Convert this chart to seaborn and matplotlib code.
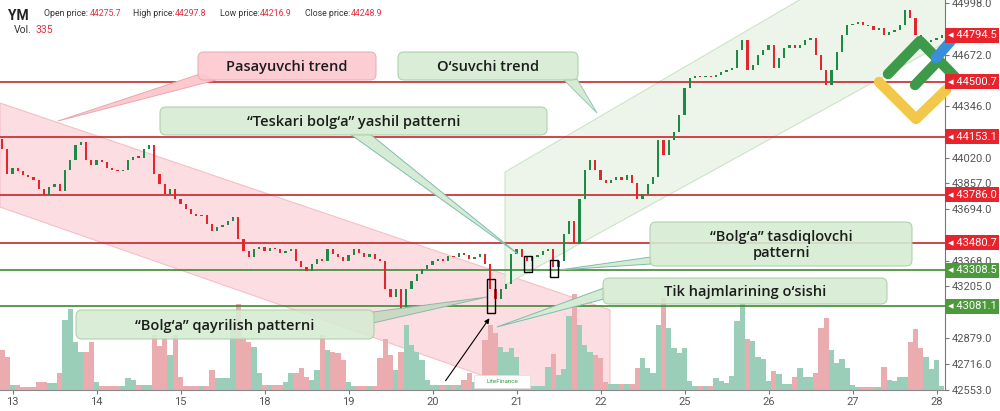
import numpy as np
import pandas as pd
import seaborn as sns
import matplotlib.pyplot as plt
from matplotlib.patches import FancyBboxPatch, Polygon, Rectangle
from matplotlib.transforms import blended_transform_factory

# hourly closes (open = previous close)
first_open = 44140
closes = [
    44072, 43914, 43958, 43933, 43908, 43895, 43882, 43819, 43781, 43832, 43851, 43807, 43945, 44008, 44103, 44122,
    44008, 43977, 44008, 43990, 43958, 43945, 43933, 43945, 44008, 44027, 44021, 44072, 44103, 43914, 43851, 43788,
    43819, 43756, 43725, 43693, 43662, 43649, 43655, 43598, 43554, 43579, 43592, 43617, 43643, 43504, 43428, 43390,
    43441, 43453, 43428, 43447, 43441, 43415, 43428, 43441, 43365, 43327, 43302, 43346, 43378, 43365, 43441, 43409,
    43390, 43365, 43403, 43441, 43415, 43390, 43409, 43378, 43365, 43188, 43138, 43188, 43062, 43188, 43239, 43283,
    43314, 43340, 43365, 43378, 43365, 43396, 43390, 43415, 43403, 43378, 43390, 43409, 43346, 43188, 43125, 43188,
    43220, 43409, 43441, 43390, 43365, 43390, 43403, 43428, 43441, 43327, 43365, 43535, 43617, 43472, 43756, 43945,
    44008, 43945, 43882, 43863, 43882, 43895, 43882, 43908, 43863, 43756, 43788, 43851, 43895, 44135, 44040, 44135,
    44185, 44292, 44463, 44526, 44539, 44532, 44539, 44532, 44545, 44564, 44576, 44589, 44703, 44766, 44576, 44608,
    44671, 44703, 44734, 44589, 44652, 44715, 44734, 44715, 44734, 44766, 44778, 44671, 44576, 44482, 44576, 44690,
    44797, 44860, 44867, 44879, 44860, 44854, 44829, 44841, 44797, 44816, 44829, 44860, 44955, 44904, 44797, 44734,
    44753, 44766, 44778, 44794.5,
]
volumes = [
    3200, 2640, 400, 400, 240, 240, 240, 640, 640, 560, 560, 1360, 5600, 6480, 3840, 3040,
    3040, 3840, 640, 320, 320, 320, 320, 320, 960, 800, 400, 400, 400, 4400, 3520, 4160,
    2800, 4400, 1040, 320, 320, 320, 320, 320, 1600, 960, 960, 960, 4800, 6880, 4240, 3840,
    3440, 1360, 400, 400, 400, 400, 640, 1360, 1360, 1760, 1040, 800, 1600, 4400, 3200, 3040,
    2960, 2400, 640, 320, 320, 320, 320, 320, 2560, 4080, 2800, 1600, 3040, 5200, 3600, 3040,
    2400, 800, 400, 400, 400, 400, 400, 400, 800, 1360, 640, 640, 4000, 5200, 4560, 3440,
    3040, 3360, 2640, 640, 320, 320, 320, 320, 1840, 2880, 1200, 1680, 5920, 7680, 5200, 3600,
    3040, 2800, 2560, 640, 480, 480, 480, 480, 480, 1760, 2560, 1760, 1360, 5200, 7360, 4960,
    3360, 2960, 3360, 720, 320, 320, 320, 320, 960, 720, 560, 1120, 5520, 6880, 4080, 3920,
    2640, 2480, 720, 1520, 1280, 480, 480, 1040, 1760, 1040, 1040, 1360, 4960, 5760, 3200, 2160,
    2480, 1760, 400, 240, 240, 240, 240, 240, 1840, 800, 720, 1040, 1040, 3840, 4880, 3360,
    2640, 1680, 2400, 335,
]
day_labels = ['13', '14', '15', '18', '19', '20', '21', '22', '25', '26', '27', '28']
day_start = [2, 18, 34, 50, 66, 82, 98, 114, 130, 146, 162, 178]
price_ticks = [44998.0, 44835.0, 44672.0, 44509.0, 44346.0, 44183.0, 44020.0, 43857.0,
               43694.0, 43531.0, 43368.0, 43205.0, 43042.0, 42879.0, 42716.0, 42553.0]
# tick labels hidden behind the price boxes on the right
hidden_ticks = [44835.0, 44509.0, 44183.0, 43531.0, 43042.0]
red_levels = [44500.7, 44153.1, 43786.0, 43480.7]
green_levels = [43308.5, 43081.1]
last_price = 44794.5
header = [('Open price:', '44275.7'), ('High price:', '44297.8'),
          ('Low price:', '44216.9'), ('Close price:', '44248.9')]

df = pd.DataFrame({'close': closes, 'volume': volumes})
df['i'] = np.arange(len(df))
df['open'] = df['close'].shift(1).fillna(first_open)
df['dir'] = np.where(df['close'] >= df['open'], 'up', 'down')

sns.set_theme(style='white')
plt.rcParams['font.family'] = ['Roboto', 'DejaVu Sans']

fig = plt.figure(figsize=(10, 4.11), dpi=100)
fig.patch.set_facecolor('white')
rect = [0, 1 - 390 / 411, 0.945, 390 / 411]

# overlay in pixel coords for annotations
ov = fig.add_axes([0, 0, 1, 1], zorder=10)
ov.set_xlim(0, 1000)
ov.set_ylim(411, 0)
ov.axis('off')
ov.patch.set_alpha(0)

axv = fig.add_axes(rect, zorder=0)
ax = fig.add_axes(rect, zorder=1)
ax.patch.set_visible(False)

# trend channels
axv.add_patch(Polygon([(0, 103), (610, 310), (610, 420), (0, 207)], closed=True,
                      transform=ov.transData, fc='#fcdde1', ec='#f4c0c7', lw=0.8, zorder=0))
axv.add_patch(Polygon([(505, 172), (950, -88), (950, 40), (505, 285)], closed=True,
                      transform=ov.transData, fc='#edf5eb', ec='#cde3c9', lw=0.8, zorder=0))

# volume
sns.barplot(data=df, x='i', y='volume', hue='dir', palette={'up': '#93d6ba', 'down': '#f6a1a7'},
            native_scale=True, width=1.0, dodge=False, errorbar=None, legend=False,
            linewidth=0, ax=axv, zorder=1)
axv.set_xlim(-0.4, 179.6)
axv.set_ylim(0, 31200)
axv.axis('off')

# candles
body = (df['close'] - df['open']).abs().clip(lower=8)
low = df[['open', 'close']].min(axis=1)
cols = df['dir'].map({'up': '#1d8a45', 'down': '#e3262d'})
ax.bar(df['i'], body, bottom=low, width=0.42, color=cols, linewidth=0, zorder=3)

for lv in red_levels:
    ax.axhline(lv, color='#c8262a', lw=1.2, zorder=2)
for lv in green_levels:
    ax.axhline(lv, color='#3f8a33', lw=1.2, zorder=2)

ax.set_xlim(-0.4, 179.6)
ax.set_ylim(42550, 45018)
ax.yaxis.tick_right()
ax.set_yticks(price_ticks)
ax.set_yticklabels(['' if t in hidden_ticks else f'{t:.1f}' for t in price_ticks])
ax.set_xticks(day_start)
ax.set_xticklabels(day_labels)
ax.tick_params(axis='y', length=3, width=0.8, color='#777', labelsize=8, labelcolor='#555', pad=2)
ax.tick_params(axis='x', length=3, width=0.8, color='#777', labelsize=8, labelcolor='#555', pad=2,
               bottom=True)
for s in ['left', 'top']:
    ax.spines[s].set_visible(False)
ax.spines['right'].set_color('#777')
ax.spines['bottom'].set_color('#888')
ax.spines['right'].set_linewidth(0.8)
ax.spines['bottom'].set_linewidth(0.8)
ax.grid(False)

# logo
for pts, c in [([(879, 82), (916, 119), (946, 90)], '#f2c84b'),
               ([(888, 74), (920, 41), (958, 80)], '#3d9a4a'),
               ([(915, 85), (938, 61)], '#3d9a4a'),
               ([(936, 58), (956, 35)], '#3a8fda')]:
    xs, ys = zip(*pts)
    ov.plot(xs, ys, color=c, lw=7.5, solid_capstyle='round', solid_joinstyle='round', zorder=1)

# price boxes on the right axis
btr = blended_transform_factory(fig.transFigure, ax.transData)
for lv, fc in [(last_price, '#e8232b')] + [(l, '#e8232b') for l in red_levels] + \
              [(l, '#4c9a3c') for l in green_levels]:
    ov.text(0.9475, lv, f'\u25c2 {lv:.1f}', transform=btr, ha='left', va='center',
            fontsize=8, color='white', zorder=5,
            bbox=dict(boxstyle='square,pad=0.22', fc=fc, ec='none'))

# callouts
pink_fc, pink_ec = '#fcc9cf', '#eba8b0'
grn_fc, grn_ec = '#d6ebd3', '#a9cfa7'
wedges = [
    ([(200, 74), (216, 80), (58, 121)], pink_fc, pink_ec),
    ([(563, 79), (577, 79), (597, 113)], grn_fc, '#9cc6b6'),
    ([(350, 134), (370, 134), (518, 254)], grn_fc, '#7fbcb0'),
    ([(651, 257), (651, 264), (559, 270)], grn_fc, '#7fbcb0'),
    ([(604, 288), (604, 299), (497, 327)], grn_fc, '#7fbcb0'),
    ([(373, 312), (373, 323), (487, 297)], '#c9d9c4', '#8fb8a8'),
]
for pts, fc, ec in wedges:
    ov.add_patch(Polygon(pts, closed=True, fc=fc, ec=ec, lw=0.7, zorder=2))

boxes = [
    (198, 52, 178, 28, 'Pasayuvchi trend', pink_fc, pink_ec),
    (398, 52, 180, 28, 'O\u2018suvchi trend', grn_fc, grn_ec),
    (160, 107, 387, 28, '\u201cTeskari bolg\u2018a\u201d yashil patterni', grn_fc, grn_ec),
    (650, 222, 262, 44, '\u201cBolg\u2018a\u201d tasdiqlovchi\npatterni', grn_fc, grn_ec),
    (603, 278, 284, 26, 'Tik hajmlarining o\u2018sishi', grn_fc, grn_ec),
    (76, 310, 298, 29, '\u201cBolg\u2018a\u201d qayrilish patterni', grn_fc, grn_ec),
]
for x0, y0, w, h, s, fc, ec in boxes:
    ov.add_patch(FancyBboxPatch((x0, y0), w, h, boxstyle='round,pad=0,rounding_size=6',
                                fc=fc, ec=ec, lw=0.8, alpha=0.9, zorder=3))
    ov.text(x0 + w / 2, y0 + h / 2 + 1, s, ha='center', va='center', fontsize=10.5,
            fontweight='semibold', family=['Open Sans', 'DejaVu Sans'], color='#1c1c1c',
            linespacing=1.1, zorder=4)

# pattern frames and arrow
for x0, y0, w, h in [(487, 279, 8, 34), (524, 256, 8, 16), (550, 260, 8, 17)]:
    ov.add_patch(Rectangle((x0, y0), w, h, fill=False, ec='black', lw=1.0, zorder=4))
ov.annotate('', xy=(491, 316), xytext=(444, 383),
            arrowprops=dict(arrowstyle='-|>', color='black', lw=0.8, mutation_scale=7), zorder=4)

# watermark
ov.add_patch(Rectangle((474, 375), 56, 13, fc='white', ec='#dddddd', lw=0.5, zorder=4))
ov.text(502, 381.5, 'LiteFinance', ha='center', va='center', fontsize=4.5, color='#3d9a4a', zorder=5)

# header
ov.text(8, 16, 'YM', ha='left', va='center', fontsize=10, fontweight='bold', color='#222')
label_x = [44, 133, 220, 305]
value_x = [90, 175, 260, 351]
for (lab, val), lx, vx in zip(header, label_x, value_x):
    ov.text(lx, 14, lab, ha='left', va='center', fontsize=6.3, color='#333')
    ov.text(vx, 14, val, ha='left', va='center', fontsize=6.3, color='#e0303e')
ov.text(14, 30, 'Vol.', ha='left', va='center', fontsize=7.5, color='#333')
ov.text(36, 30, str(volumes[-1]), ha='left', va='center', fontsize=7.5, color='#e0303e')

fig.savefig('out.png', dpi=100)
